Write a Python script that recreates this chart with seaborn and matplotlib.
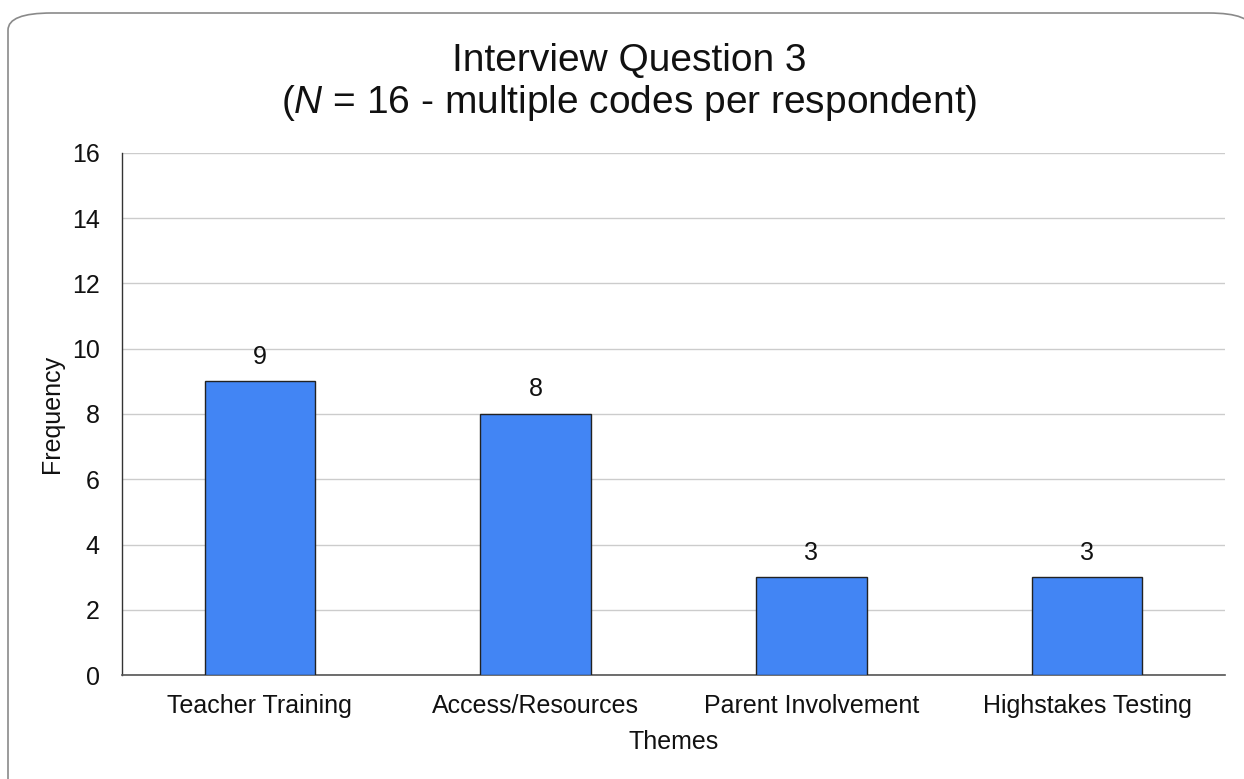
import matplotlib
matplotlib.use("Agg")
import matplotlib.pyplot as plt
from matplotlib.patches import FancyBboxPatch
import seaborn as sns
import pandas as pd

themes = ["Teacher Training", "Access/Resources", "Parent Involvement", "Highstakes Testing"]
frequency = [9, 8, 3, 3]
y_ticks = [0, 2, 4, 6, 8, 10, 12, 14, 16]

sns.set_theme(style="white")
plt.rcParams["font.family"] = ["Liberation Sans", "DejaVu Sans"]
plt.rcParams["mathtext.fontset"] = "custom"
plt.rcParams["mathtext.it"] = "Liberation Sans:italic"
plt.rcParams["mathtext.rm"] = "Liberation Sans"

TEXT = "#111111"

df = pd.DataFrame({"Themes": themes, "Frequency": frequency})

fig = plt.figure(figsize=(12.44, 7.79), dpi=100)
ax = fig.add_axes([0.0981, 0.1335, 0.8866, 0.6701])

# rounded card outline behind the chart
card = FancyBboxPatch((8 / 1244, -0.05), 1.0, 1 - 13 / 779 + 0.05,
                      boxstyle="round,pad=0,rounding_size=0.035",
                      transform=fig.transFigure, facecolor="white",
                      edgecolor="#8a8a8a", linewidth=1.2, zorder=-10,
                      mutation_aspect=779 / 1244)
fig.patches.append(card)

sns.barplot(data=df, x="Themes", y="Frequency", ax=ax, color="#4285F4",
            saturation=1, width=0.40, edgecolor="#222222", linewidth=1.0,
            zorder=3)

ax.set_ylim(0, 16)
ax.set_yticks(y_ticks)
ax.yaxis.grid(True, color="#cccccc", linewidth=1.0, zorder=0)
ax.set_axisbelow(True)
for side in ["top", "right"]:
    ax.spines[side].set_visible(False)
ax.spines["left"].set_color("#333333")
ax.spines["bottom"].set_color("#555555")
ax.spines["left"].set_linewidth(1.0)
ax.spines["bottom"].set_linewidth(1.2)
ax.tick_params(axis="both", length=0, labelsize=18, colors=TEXT)
ax.tick_params(axis="x", pad=14)
ax.tick_params(axis="y", pad=16)
ax.patch.set_alpha(0)

for container in ax.containers:
    ax.bar_label(container, labels=[str(v) for v in frequency],
                 padding=9, fontsize=18, color=TEXT)

ax.set_xlabel("Themes", fontsize=18, color=TEXT, labelpad=8)
ax.set_ylabel("Frequency", fontsize=18, color=TEXT, labelpad=6)

fig.text(0.506, 0.9215, "Interview Question 3", ha="center", va="center",
         fontsize=28, color=TEXT)
fig.text(0.506, 0.8676, r"($\mathit{N}$ = 16 - multiple codes per respondent)",
         ha="center", va="center", fontsize=28, color=TEXT)

fig.savefig("out.png", dpi=100)
